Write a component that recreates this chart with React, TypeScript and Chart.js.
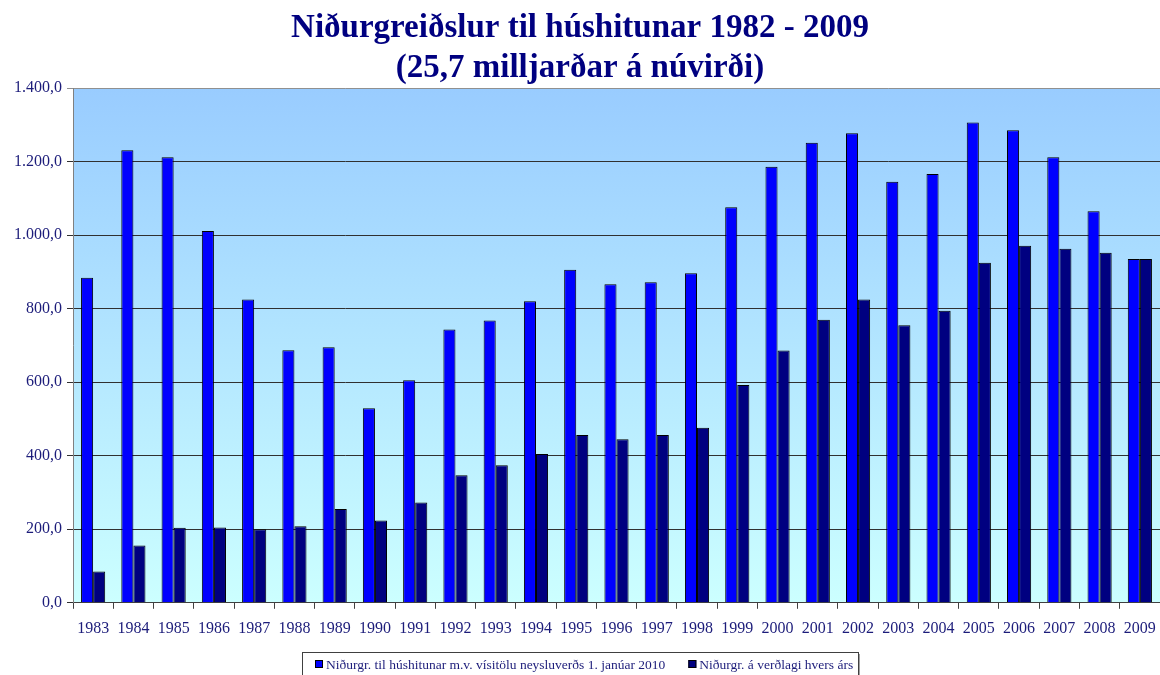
import React, { useEffect, useRef } from "react";
import { Chart, registerables } from "chart.js";

Chart.register(...registerables);

const years = ["1983","1984","1985","1986","1987","1988","1989","1990","1991","1992","1993","1994","1995","1996","1997","1998","1999","2000","2001","2002","2003","2004","2005","2006","2007","2008","2009"];
const realValues = [884,1231,1212,1011,825,687,695,529,605,743,768,820,906,866,872,896,1076,1186,1251,1277,1145,1166,1306,1285,1212,1065,935];
const nominalValues = [85,156,204,205,200,208,255,224,273,347,374,405,456,445,456,476,592,686,770,825,755,794,925,971,963,952,935];
const seriesNames = ["Niðurgr. til húshitunar m.v. vísitölu neysluverðs 1. janúar 2010", "Niðurgr. á verðlagi hvers árs"];
const titleLines = ["Niðurgreiðslur til húshitunar 1982 - 2009", "(25,7 milljarðar á núvirði)"];
const yMax = 1400;
const yStep = 200;

const NAVY = "#000080";
const LABEL = "#1c1c7a";
const SERIF = "'Liberation Serif', 'Times New Roman', serif";

function fmt(v: number): string {
  const s = Math.round(v).toString();
  const withDots = s.replace(/\B(?=(\d{3})+(?!\d))/g, ".");
  return withDots + ",0";
}

const bgPlugin = {
  id: "bgGradient",
  beforeDraw(chart: any) {
    const { ctx, chartArea } = chart;
    if (!chartArea) return;
    const g = ctx.createLinearGradient(0, chartArea.top, 0, chartArea.bottom);
    g.addColorStop(0, "#99CCFF");
    g.addColorStop(1, "#CCFFFF");
    ctx.save();
    ctx.fillStyle = g;
    ctx.fillRect(chartArea.left, chartArea.top, chartArea.right - chartArea.left, chartArea.bottom - chartArea.top);
    ctx.restore();
  },
};

const customLegendPlugin = {
  id: "customLegend",
  afterDraw(chart: any) {
    const ctx = chart.ctx;
    const ds = chart.data.datasets;
    ctx.save();
    ctx.font = "13.5px " + SERIF;
    const sq = 8;
    const sqGap = 3;
    const itemGap = 23;
    const leftPad = 13;
    const rightPad = 5;
    const widths = ds.map((d: any) => ctx.measureText(d.label).width);
    let total = leftPad + rightPad;
    widths.forEach((w: number, i: number) => {
      total += sq + sqGap + w + (i < widths.length - 1 ? itemGap : 0);
    });
    const cx = chart.width / 2;
    const x0 = Math.round(cx - total / 2);
    const x1 = Math.round(cx + total / 2);
    const top = 652;
    const cy = 664;
    ctx.fillStyle = "#ffffff";
    ctx.fillRect(x0, top, x1 - x0, chart.height - top + 5);
    ctx.strokeStyle = "#404040";
    ctx.lineWidth = 1;
    ctx.strokeRect(x0 + 0.5, top + 0.5, x1 - x0, chart.height - top + 5);
    ctx.strokeStyle = "#a0a0a0";
    ctx.beginPath();
    ctx.moveTo(x1 + 1.5, top + 2);
    ctx.lineTo(x1 + 1.5, chart.height);
    ctx.stroke();
    let x = x0 + leftPad;
    ctx.textBaseline = "middle";
    ctx.textAlign = "left";
    ds.forEach((d: any, i: number) => {
      ctx.fillStyle = d.backgroundColor;
      ctx.fillRect(x, cy - sq / 2, sq, sq);
      ctx.strokeStyle = "#000000";
      ctx.strokeRect(x + 0.5, cy - sq / 2 + 0.5, sq - 1, sq - 1);
      x += sq + sqGap;
      ctx.fillStyle = LABEL;
      ctx.fillText(d.label, x, cy + 1);
      x += widths[i] + itemGap;
    });
    ctx.restore();
  },
};

export default function App() {
  const ref = useRef<HTMLCanvasElement | null>(null);
  useEffect(() => {
    if (!ref.current) return;
    const chart = new Chart(ref.current, {
      type: "bar",
      data: {
        labels: years,
        datasets: [
          {
            label: seriesNames[0],
            data: realValues,
            backgroundColor: "#0000FF",
            borderColor: "#000000",
            borderWidth: 1,
            categoryPercentage: 0.6,
            barPercentage: 1,
          },
          {
            label: seriesNames[1],
            data: nominalValues,
            backgroundColor: NAVY,
            borderColor: "#000000",
            borderWidth: 1,
            categoryPercentage: 0.6,
            barPercentage: 1,
          },
        ],
      },
      options: {
        responsive: true,
        maintainAspectRatio: false,
        animation: false,
        layout: { padding: { left: 0, right: 0, top: 0, bottom: 27 } },
        plugins: {
          title: {
            display: true,
            text: titleLines,
            color: NAVY,
            font: { family: SERIF, size: 33, weight: "bold", lineHeight: 40 / 33 },
            padding: { top: 8, bottom: 0 },
          },
          legend: { display: false },
          tooltip: { enabled: false },
        },
        scales: {
          x: {
            offset: true,
            afterFit(scale: any) {
              scale.paddingLeft = 0;
              scale.paddingRight = 0;
            },
            grid: {
              display: true,
              offset: true,
              drawOnChartArea: false,
              drawTicks: true,
              tickLength: 6,
              color: "#404040",
            },
            border: { display: true, color: "#404040" },
            ticks: {
              color: LABEL,
              font: { family: SERIF, size: 16 },
              padding: 10,
              maxRotation: 0,
              autoSkip: false,
            },
          },
          y: {
            min: 0,
            max: yMax,
            afterFit(scale: any) {
              scale.width = 73;
            },
            grid: {
              color: (c: any) => (c.tick && c.tick.value === yMax ? "#909090" : "#303030"),
              lineWidth: 1,
              drawTicks: true,
              tickLength: 6,
            },
            border: { display: true, color: "#808080" },
            ticks: {
              stepSize: yStep,
              color: LABEL,
              font: { family: SERIF, size: 16 },
              padding: 5,
              callback: (v: any) => fmt(Number(v)),
            },
          },
        },
      },
      plugins: [bgPlugin, customLegendPlugin],
    } as any);
    return () => chart.destroy();
  }, []);
  return (
    <div style={{ position: "absolute", left: 0, top: 0, width: 1160, height: 675 }}>
      <canvas ref={ref} />
    </div>
  );
}
